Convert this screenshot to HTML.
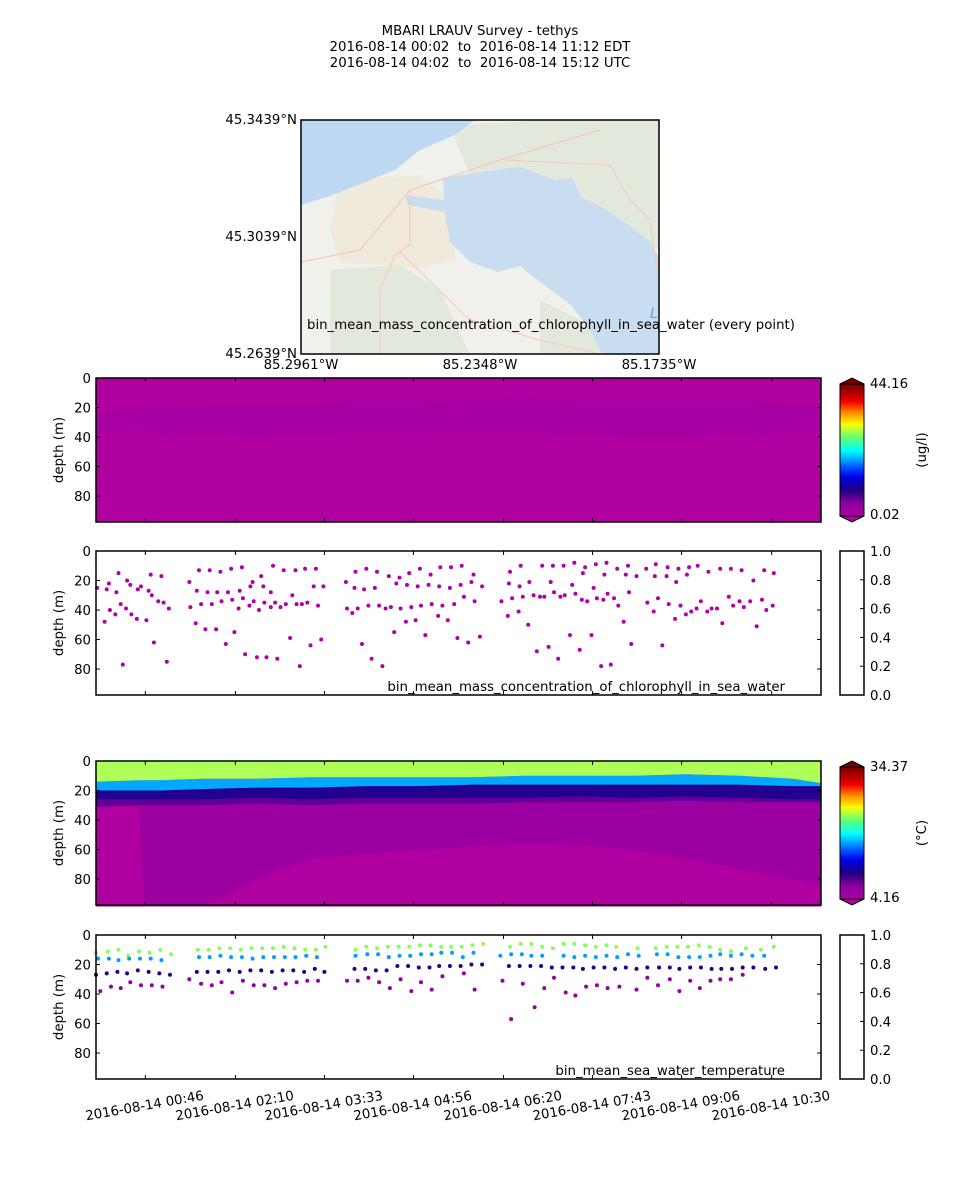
<!DOCTYPE html>
<html><head><meta charset="utf-8">
<style>
body{margin:0;background:#fff;}
svg{display:block;font-family:"DejaVu Sans","Liberation Sans",sans-serif;}
text{font-size:13.3px;fill:#000;white-space:pre;}
</style></head>
<body>
<svg id="fig" width="960" height="1200" viewBox="0 0 960 1200" xmlns="http://www.w3.org/2000/svg">
<rect width="960" height="1200" fill="#fff"/>
<g>
<text x="480" y="35" text-anchor="middle">MBARI LRAUV Survey - tethys</text>
<text x="480" y="51" text-anchor="middle" xml:space="preserve">2016-08-14 00:02  to  2016-08-14 11:12 EDT</text>
<text x="480" y="67" text-anchor="middle" xml:space="preserve">2016-08-14 04:02  to  2016-08-14 15:12 UTC</text>
</g>
<g>
<clipPath id="mapclip"><rect x="301" y="120" width="358" height="234"/></clipPath>
<g clip-path="url(#mapclip)">
<rect x="301" y="120" width="358" height="234" fill="#f1f1ec"/>
<path d="M450,125 L560,120 L659,120 L659,250 L620,230 L560,185 L520,170 L470,175 Z" fill="#e2e8dc"/>
<path d="M330,270 L400,265 L440,290 L470,354 L330,354 Z" fill="#e2e8dc"/>
<path d="M540,300 L600,330 L640,354 L540,354 Z" fill="#e2e8dc"/>
<path d="M340,180 L420,175 L450,200 L455,260 L420,268 L340,262 L330,230 Z" fill="#efeadb"/>
<path d="M301,120 L475,120 L455,135 L420,150 L395,170 L365,182 L330,196 L301,205 Z" fill="#bfd8f2"/>
<path d="M443,178 L480,172 L520,167 L555,180 L572,178 L582,198 L602,207 L630,226 L652,243 L659,258 L659,354 L602,354 L590,330 L570,304 L532,276 L520,266 L498,272 L470,262 L450,242 L445,215 Z" fill="#c9ddf0"/>
<path d="M405,195 L445,200 L445,212 L408,205 Z" fill="#c9ddf0"/>
<path d="M301,262 L360,250 L410,190 L500,160 L600,130" fill="none" stroke="#f5c9b5" stroke-width="1.2"/>
<path d="M410,190 L410,245 L395,255 L380,290 L380,354" fill="none" stroke="#f5c9b5" stroke-width="1"/>
<path d="M400,252 L470,320 L540,340 L600,354" fill="none" stroke="#f5c9b5" stroke-width="1"/>
<path d="M505,160 L610,165 L630,200 L650,220 L659,280" fill="none" stroke="#f5c9b5" stroke-width="1"/>
<text x="650" y="318" style="font-size:14px;fill:#6aa0d0;font-style:italic">L</text>
</g>
<rect x="301" y="120" width="358" height="234" fill="none" stroke="#000" stroke-width="1.5"/>
<text x="297" y="124" text-anchor="end">45.3439°N</text>
<text x="297" y="241" text-anchor="end">45.3039°N</text>
<text x="297" y="358" text-anchor="end">45.2639°N</text>
<text x="301" y="369" text-anchor="middle">85.2961°W</text>
<text x="480" y="369" text-anchor="middle">85.2348°W</text>
<text x="659" y="369" text-anchor="middle">85.1735°W</text>
<text x="307" y="329">bin_mean_mass_concentration_of_chlorophyll_in_sea_water (every point)</text>
</g>
<g id="plots"></g>
</svg>
<script>
// ---------- data ----------
const tickMinutes = [46,130,213,296,380,463,546,630];
const tickLabels = ["2016-08-14 00:46","2016-08-14 02:10","2016-08-14 03:33","2016-08-14 04:56","2016-08-14 06:20","2016-08-14 07:43","2016-08-14 09:06","2016-08-14 10:30"];
const depthTicks = [0,20,40,60,80];
const cbTicks = ["1.0","0.8","0.6","0.4","0.2","0.0"];
// chlorophyll sample points: [minute, depth]
const chlPoints = [[1,25],[10,26],[12,22],[21,15],[8,48],[13,40],[18,43],[19,28],[23,36],[25,77],[28,39],[29,20],[32,23],[33,43],[38,46],[39,26],[42,24],[47,47],[49,27],[51,16],[52,30],[54,62],[58,34],[61,17],[63,35],[66,75],[68,39],
[87,21],[88,38],[93,49],[94,27],[96,13],[98,36],[102,53],[104,28],[106,13],[108,36],[112,53],[113,28],[116,14],[117,34],[121,63],[123,28],[126,12],[127,33],[129,55],[133,39],[134,27],[136,11],[137,32],[139,70],[143,37],[144,24],[146,21],[147,34],[150,72],[152,40],[154,17],[156,24],[157,35],[159,72],[163,38],[163,28],[165,10],[167,35],[169,73],[172,38],[175,13],[177,36],[181,59],[183,30],[186,13],[187,36],[190,78],[192,36],[195,12],[197,35],[200,64],[203,24],[205,12],[207,37],[210,60],[212,24],
[233,21],[234,39],[239,42],[241,25],[242,14],[244,39],[248,63],[250,26],[252,12],[254,37],[257,73],[260,25],[262,14],[267,78],[264,37],[270,39],[273,17],[275,38],[278,55],[280,22],[283,18],[284,39],[289,48],[290,23],[292,15],[294,38],[298,47],[300,24],[302,12],[303,37],[307,57],[310,23],[312,16],[313,36],[319,44],[320,24],[321,11],[323,37],[328,47],[330,25],[331,11],[334,36],[337,59],[340,23],[341,10],[343,31],[347,62],[350,21],[352,16],[353,34],[358,58],[360,24],
[378,34],[384,44],[385,22],[386,14],[388,32],[394,41],[395,24],[396,10],[398,31],[403,50],[404,21],[408,30],[411,68],[414,31],[416,10],[418,31],[422,65],[424,21],[426,10],[427,28],[431,73],[433,31],[436,10],[437,30],[442,57],[444,23],[446,8],[447,29],[451,67],[453,33],[454,15],[456,11],[458,34],[462,57],[464,25],[466,9],[467,32],[471,78],[473,33],[474,16],[476,8],[477,29],[480,77],[483,32],[486,12],[487,37],[492,48],[494,16],[496,10],[497,28],[499,63],[504,17],
[513,12],[514,35],[520,41],[522,9],[521,17],[524,32],[528,64],[532,17],[533,11],[534,36],[540,46],[541,21],[543,12],[545,37],[550,43],[551,16],[553,11],[555,41],[560,39],[561,10],[564,34],[570,41],[571,14],[574,39],[579,39],[582,12],[584,49],[590,31],[592,12],[594,37],[600,34],[602,13],[604,38],[610,34],[613,20],[616,51],[621,33],[623,13],[625,40],[631,37],[632,15]];
// temperature sample rows
const tGreenMin=[0,11,21,30,40,50,60,70,95,105,115,125,135,145,155,165,175,185,195,205,214,242,252,262,272,282,292,302,312,322,331,341,351,361,386,396,406,416,426,436,446,456,466,476,485,505,522,532,542,552,562,572,582,592,606,620,632];
const tGreenDep=[12,11,10,14,11,12,10,13,10,10,9,9,10,9,9,9,8,9,10,10,8,10,8,9,8,8,8,7,7,8,8,8,7,6,8,6,6,8,9,6,6,7,8,7,8,9,9,8,8,8,7,8,10,11,9,10,8];
const tCyanMin=[2,12,21,31,41,51,61,96,106,116,126,136,146,156,166,176,186,196,206,242,253,263,273,283,293,303,313,322,332,342,352,377,387,397,406,416,436,446,456,466,476,486,496,506,523,533,543,553,563,573,582,592,602,612,623];
const tCyanDep=[16,16,17,16,16,16,17,15,15,14,15,15,16,15,15,15,15,14,15,14,13,13,15,14,14,13,13,12,12,15,12,14,13,13,14,14,14,15,14,15,14,15,13,14,13,13,15,15,15,14,13,14,13,14,14];
const tIndMin=[0,10,20,29,39,49,59,69,94,104,114,124,134,144,154,164,174,184,194,204,213,241,251,261,271,281,291,301,311,320,330,340,350,360,385,395,405,415,425,435,445,454,464,474,484,494,504,514,525,535,544,554,564,574,583,593,603,613,624,634];
const tIndDep=[27,26,25,26,24,25,26,27,25,25,25,24,25,24,24,25,24,24,25,23,25,23,23,24,24,21,21,22,22,21,21,21,20,20,21,21,21,21,22,22,22,23,22,22,23,22,23,22,22,22,23,22,22,23,23,23,22,22,23,22];
const tMagMin=[4,14,23,32,42,52,62,87,98,108,117,127,137,147,157,167,177,187,197,207,234,244,254,264,274,284,294,303,313,323,343,353,379,387,398,409,418,427,438,447,457,467,477,488,504,514,524,535,544,554,563,573,582,592,603];
const tMagDep=[38,35,36,32,34,34,35,30,33,34,32,39,31,34,34,36,33,32,31,31,31,31,29,32,36,30,38,32,37,28,26,37,31,57,33,49,36,29,39,41,35,34,36,35,37,29,34,30,38,31,36,31,30,30,27];
const tRowTemps=[23.0,17.0,10.0,6.5];
// temperature contour band boundaries
const bandMin=[0,40,45,60,100,150,200,250,300,350,400,450,500,550,600,650,676];
const tGreenBot=[14,13,13,13,12,12,11,11,11,11,10,10,10,9,10,12,15];
const tCyanBot=[20,20,20,20,19,18,18,17,17,16,16,16,16,16,16,17,17];
const tNavyBot=[26,26,26,26,26,25,26,25,25,25,25,24,25,24,25,26,26];
const tDarkBot=[31,30,30,30,30,29,30,29,29,29,28,28,28,27,28,28,28];
const tMagTop=[30,30,98,98,98,80,66,63,60,58,56,57,60,66,73,80,85];
const chlBandTop=[24,20,20,20,19,18,18,16,16,15,14,16,16,16,16,18,18];
const chlBandBot=[36,35,35,37,38,40,38,36,37,36,36,38,40,40,38,36,35];
const tempMin=4.16, tempMax=34.37;

// ---------- layout ----------
const X0=96, X1=821, T0=0, T1=676;
const xs=m=>X0+(m-T0)*(X1-X0)/(T1-T0);
const PH=144, DMAX=97.6;
const ys=(top,d)=>top+d*PH/DMAX;
const panels=[378,551,761,935];
const NS="http://www.w3.org/2000/svg";
const root=document.getElementById('plots');
function el(tag,attrs,parent){const e=document.createElementNS(NS,tag);for(const k in attrs)e.setAttribute(k,attrs[k]);(parent||root).appendChild(e);return e;}

const stops=[[0,[176,0,160]],[0.1,[140,0,160]],[0.2,[30,0,130]],[0.3,[0,0,230]],[0.37,[0,80,255]],[0.43,[0,165,255]],[0.5,[0,255,255]],[0.6,[100,255,110]],[0.66,[190,255,60]],[0.7,[255,250,0]],[0.78,[255,150,0]],[0.87,[240,0,0]],[1,[120,0,0]]];
function cmap(f){f=Math.max(0,Math.min(1,f));for(let i=1;i<stops.length;i++){if(f<=stops[i][0]){const a=stops[i-1],b=stops[i];const u=(f-a[0])/(b[0]-a[0]);const c=a[1].map((v,j)=>Math.round(v+(b[1][j]-v)*u));return `rgb(${c.join(',')})`;}}return 'rgb(120,0,0)';}
const tcol=v=>cmap((v-tempMin)/(tempMax-tempMin));

function bandPath(top,topArr,botArr){
  let d='';
  bandMin.forEach((m,i)=>{d+=(i?'L':'M')+xs(m).toFixed(1)+','+ys(top,topArr[i]).toFixed(1);});
  for(let i=bandMin.length-1;i>=0;i--){d+='L'+xs(bandMin[i]).toFixed(1)+','+ys(top,botArr[i]).toFixed(1);}
  return d+'Z';
}
const zeros=bandMin.map(()=>0), bottoms=bandMin.map(()=>DMAX+1);

function axes(top,name){
  const g=el('g',{});
  
  
  depthTicks.forEach(d=>{
    const y=ys(top,d);
    el('line',{x1:X0,x2:X0+4,y1:y,y2:y,stroke:'#000'},g);
    el('line',{x1:X1,x2:X1-4,y1:y,y2:y,stroke:'#000'},g);
    const t=el('text',{x:91,y:y+5,'text-anchor':'end'},g);t.textContent=d;
  });
  tickMinutes.forEach(m=>{
    el('line',{x1:xs(m),x2:xs(m),y1:top+PH,y2:top+PH-4,stroke:'#000'},g);
    el('line',{x1:xs(m),x2:xs(m),y1:top,y2:top+4,stroke:'#000'},g);
  });
  el('rect',{x:X0,y:top,width:X1-X0,height:PH,fill:'none',stroke:'#000','stroke-width':1.5},g);
  const yl=el('text',{x:0,y:0,'text-anchor':'middle',transform:`translate(63,${top+PH/2}) rotate(-90)`},g);
  yl.textContent='depth (m)';
  
  
}
function colorbar(top,hi,lo,unit,name){
  const g=el('g',{});
  
  
  const x=840,w=24,y0=top+6,h=PH-12;
  for(let i=0;i<h;i++){el('rect',{x:x,y:y0+i,width:w,height:1.2,fill:cmap(1-i/h)},g);}
  el('polygon',{points:`${x},${y0} ${x+w/2},${top} ${x+w},${y0}`,fill:cmap(1),stroke:'#000'},g);
  el('polygon',{points:`${x},${y0+h} ${x+w/2},${top+PH} ${x+w},${y0+h}`,fill:cmap(0),stroke:'#000'},g);
  el('rect',{x:x,y:y0,width:w,height:h,fill:'none',stroke:'#000'},g);
  const a=el('text',{x:870,y:top+10},g);a.textContent=hi;
  const b=el('text',{x:870,y:top+PH-3},g);b.textContent=lo;
  const u=el('text',{x:0,y:0,'text-anchor':'middle',transform:`translate(926,${top+PH/2}) rotate(-90)`},g);u.textContent=unit;
}
function emptyBar(top,name){
  const g=el('g',{});
  
  
  el('rect',{x:840,y:top,width:24,height:PH,fill:'#fff',stroke:'#000','stroke-width':1.5},g);
  cbTicks.forEach((t,i)=>{const y=top+i*PH/5;el('line',{x1:860,x2:864,y1:y,y2:y,stroke:'#000'},g);const tx=el('text',{x:870,y:y+5},g);tx.textContent=t;});
}

// Panel 1: chlorophyll contour
(function(){
  const top=panels[0];
  const g=el('g',{});
  
  
  el('rect',{x:X0,y:top,width:X1-X0,height:PH,fill:'#b000a0'},g);
  el('path',{d:bandPath(top,chlBandTop,chlBandBot),fill:'#a600a2'},g);
  axes(top,'chlorophyll-contour');
  colorbar(top,'44.16','0.02','(ug/l)','chlorophyll-colorbar');
})();
// Panel 2: chlorophyll scatter
(function(){
  const top=panels[1];
  const g=el('g',{});
  
  
  chlPoints.forEach(p=>{
    const c=el('circle',{cx:xs(p[0]).toFixed(1),cy:ys(top,p[1]).toFixed(1),r:2,fill:'#b000a8'},g);
    
    
  });
  axes(top,'chlorophyll-scatter');
  const t=el('text',{x:785,y:top+140,'text-anchor':'end'});t.textContent='bin_mean_mass_concentration_of_chlorophyll_in_sea_water';
  emptyBar(top,'chlorophyll-scatter-colorbar');
})();
// Panel 3: temperature contour
(function(){
  const top=panels[2];
  const g=el('g',{});
  
  
  el('rect',{x:X0,y:top,width:X1-X0,height:PH,fill:'#9c00a0'},g);
  el('path',{d:bandPath(top,tMagTop,bottoms),fill:'#b000a0'},g);
  el('path',{d:bandPath(top,tNavyBot,tDarkBot),fill:'#600098'},g);
  el('path',{d:bandPath(top,tCyanBot,tNavyBot),fill:'#220090'},g);
  el('path',{d:bandPath(top,tGreenBot,tCyanBot),fill:'#00a8ff'},g);
  el('path',{d:bandPath(top,zeros,tGreenBot),fill:'#b0ff58'},g);
  axes(top,'temperature-contour');
  colorbar(top,'34.37','4.16','(°C)','temperature-colorbar');
})();
// Panel 4: temperature scatter
(function(){
  const top=panels[3];
  const g=el('g',{});
  
  
  const rows=[[tGreenMin,tGreenDep],[tCyanMin,tCyanDep],[tIndMin,tIndDep],[tMagMin,tMagDep]];
  rows.forEach((r,ri)=>{
    r[0].forEach((m,i)=>{
      const c=el('circle',{cx:xs(m).toFixed(1),cy:ys(top,r[1][i]).toFixed(1),r:2,fill:tcol(tRowTemps[ri])},g);
      
      
    });
  });
  axes(top,'temperature-scatter');
  const t=el('text',{x:785,y:top+140,'text-anchor':'end'});t.textContent='bin_mean_sea_water_temperature';
  emptyBar(top,'temperature-scatter-colorbar');
  tickMinutes.forEach((m,i)=>{
    const x=xs(m);
    const tx=el('text',{x:0,y:0,'text-anchor':'middle',transform:`translate(${x},${top+PH+31}) rotate(-10)`});
    tx.textContent=tickLabels[i];
    
    
  });
})();
</script>
</body></html>
